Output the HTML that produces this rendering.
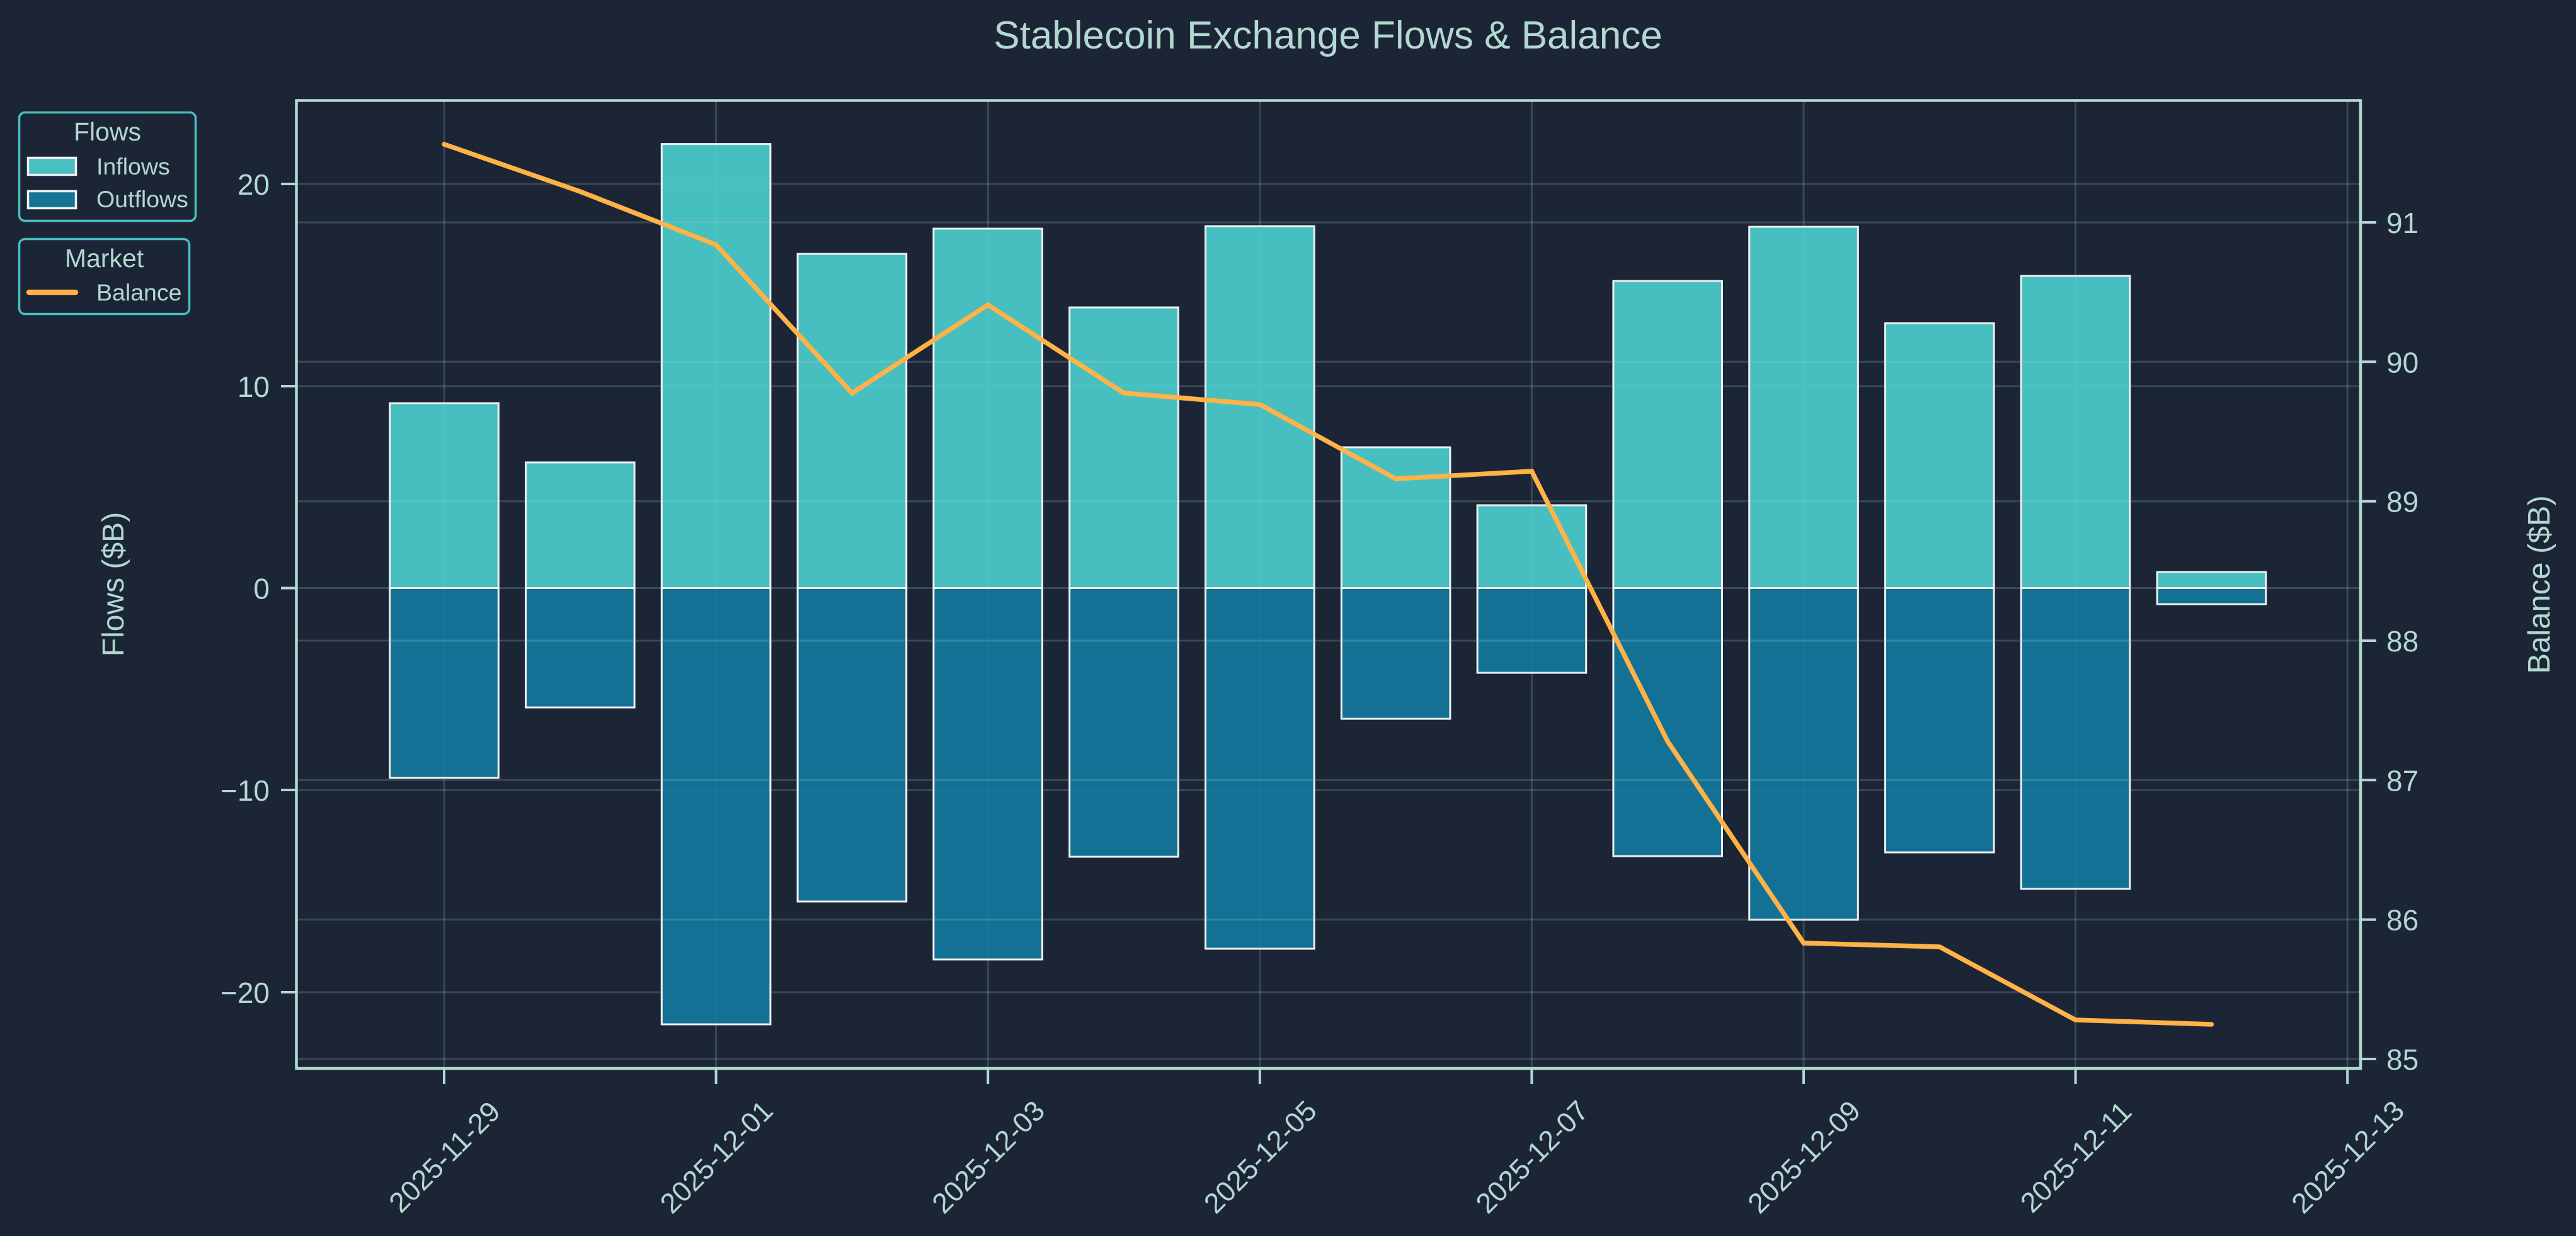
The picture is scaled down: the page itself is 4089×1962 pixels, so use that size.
<!DOCTYPE html>
<html>
<head>
<meta charset="utf-8">
<style>
html,body{margin:0;padding:0;background:#1c2535;}
svg{display:block;}
text{font-family:"Liberation Sans","DejaVu Sans",Arial,sans-serif;fill:#b2d8d0;}
</style>
</head>
<body>
<svg width="4089" height="1962" viewBox="0 0 4089 1962" xmlns="http://www.w3.org/2000/svg">
<rect x="0" y="0" width="4089" height="1962" fill="#1c2535"/>

<!-- Title -->
<text x="2108" y="77" font-size="62" text-anchor="middle">Stablecoin Exchange Flows &amp; Balance</text>

<!-- left-axis grid (under bars) -->
<g stroke="#b2d8d0" stroke-opacity="0.2" stroke-width="3">
<line x1="472" y1="292" x2="3745" y2="292"/>
<line x1="472" y1="613" x2="3745" y2="613"/>
<line x1="472" y1="933.5" x2="3745" y2="933.5"/>
<line x1="472" y1="1254" x2="3745" y2="1254"/>
<line x1="472" y1="1575" x2="3745" y2="1575"/>
<line x1="705" y1="161" x2="705" y2="1694"/>
<line x1="1136.6" y1="161" x2="1136.6" y2="1694"/>
<line x1="1568.2" y1="161" x2="1568.2" y2="1694"/>
<line x1="1999.8" y1="161" x2="1999.8" y2="1694"/>
<line x1="2431.4" y1="161" x2="2431.4" y2="1694"/>
<line x1="2863" y1="161" x2="2863" y2="1694"/>
<line x1="3294.6" y1="161" x2="3294.6" y2="1694"/>
<line x1="3726.2" y1="161" x2="3726.2" y2="1694"/>
</g>

<!-- Bars -->
<g stroke="#eef0f2" stroke-width="3" fill-opacity="0.9">
<g fill="#4dd0cf">
<rect x="618.7" y="640" width="172.6" height="293.5"/>
<rect x="834.5" y="734" width="172.6" height="199.5"/>
<rect x="1050.3" y="228.6" width="172.6" height="704.9"/>
<rect x="1266.1" y="403" width="172.6" height="530.5"/>
<rect x="1481.9" y="363" width="172.6" height="570.5"/>
<rect x="1697.7" y="488" width="172.6" height="445.5"/>
<rect x="1913.5" y="359" width="172.6" height="574.5"/>
<rect x="2129.3" y="710" width="172.6" height="223.5"/>
<rect x="2345.1" y="802" width="172.6" height="131.5"/>
<rect x="2560.9" y="446" width="172.6" height="487.5"/>
<rect x="2776.7" y="360" width="172.6" height="573.5"/>
<rect x="2992.5" y="513" width="172.6" height="420.5"/>
<rect x="3208.3" y="438" width="172.6" height="495.5"/>
<rect x="3424.1" y="908" width="172.6" height="25.5"/>
</g>
<g fill="#147aa1">
<rect x="618.7" y="933.5" width="172.6" height="301"/>
<rect x="834.5" y="933.5" width="172.6" height="189.5"/>
<rect x="1050.3" y="933.5" width="172.6" height="692.5"/>
<rect x="1266.1" y="933.5" width="172.6" height="497.5"/>
<rect x="1481.9" y="933.5" width="172.6" height="589.5"/>
<rect x="1697.7" y="933.5" width="172.6" height="426.5"/>
<rect x="1913.5" y="933.5" width="172.6" height="572.5"/>
<rect x="2129.3" y="933.5" width="172.6" height="207.5"/>
<rect x="2345.1" y="933.5" width="172.6" height="134.5"/>
<rect x="2560.9" y="933.5" width="172.6" height="425.5"/>
<rect x="2776.7" y="933.5" width="172.6" height="526.5"/>
<rect x="2992.5" y="933.5" width="172.6" height="419.5"/>
<rect x="3208.3" y="933.5" width="172.6" height="477.5"/>
<rect x="3424.1" y="933.5" width="172.6" height="25.5"/>
</g>
</g>

<!-- right-axis grid (over bars) -->
<g stroke="#b2d8d0" stroke-opacity="0.2" stroke-width="3">
<line x1="472" y1="353" x2="3745" y2="353"/>
<line x1="472" y1="574.3" x2="3745" y2="574.3"/>
<line x1="472" y1="795.7" x2="3745" y2="795.7"/>
<line x1="472" y1="1017" x2="3745" y2="1017"/>
<line x1="472" y1="1238.3" x2="3745" y2="1238.3"/>
<line x1="472" y1="1459.7" x2="3745" y2="1459.7"/>
<line x1="472" y1="1681" x2="3745" y2="1681"/>
</g>

<!-- Balance line -->
<polyline fill="none" stroke="#ffb347" stroke-width="7.5" stroke-linejoin="miter" stroke-linecap="round"
points="705,229 920.8,304 1136.6,388.5 1352.4,624 1568.2,484 1784,624 1999.8,642 2215.6,760 2431.4,748 2647.2,1177 2863,1497 3078.8,1503 3294.6,1619 3510.4,1626"/>

<!-- Spines -->
<rect x="470.5" y="159.5" width="3276.5" height="1536.5" fill="none" stroke="#b2d8d0" stroke-width="4.5"/>

<!-- Left ticks -->
<g stroke="#b2d8d0" stroke-width="4">
<line x1="446" y1="292" x2="470" y2="292"/>
<line x1="446" y1="613" x2="470" y2="613"/>
<line x1="446" y1="933.5" x2="470" y2="933.5"/>
<line x1="446" y1="1254" x2="470" y2="1254"/>
<line x1="446" y1="1575" x2="470" y2="1575"/>
</g>
<g font-size="46" text-anchor="end">
<text x="428" y="309">20</text>
<text x="428" y="630">10</text>
<text x="428" y="950.5">0</text>
<text x="428" y="1271">−10</text>
<text x="428" y="1592">−20</text>
</g>

<!-- Right ticks -->
<g stroke="#b2d8d0" stroke-width="4">
<line x1="3747" y1="353" x2="3772" y2="353"/>
<line x1="3747" y1="574.3" x2="3772" y2="574.3"/>
<line x1="3747" y1="795.7" x2="3772" y2="795.7"/>
<line x1="3747" y1="1017" x2="3772" y2="1017"/>
<line x1="3747" y1="1238.3" x2="3772" y2="1238.3"/>
<line x1="3747" y1="1459.7" x2="3772" y2="1459.7"/>
<line x1="3747" y1="1681" x2="3772" y2="1681"/>
</g>
<g font-size="46" text-anchor="start">
<text x="3788" y="370">91</text>
<text x="3788" y="591.3">90</text>
<text x="3788" y="812.7">89</text>
<text x="3788" y="1034">88</text>
<text x="3788" y="1255.3">87</text>
<text x="3788" y="1476.7">86</text>
<text x="3788" y="1698">85</text>
</g>

<!-- Bottom ticks -->
<g stroke="#b2d8d0" stroke-width="4">
<line x1="705" y1="1696" x2="705" y2="1721"/>
<line x1="1136.6" y1="1696" x2="1136.6" y2="1721"/>
<line x1="1568.2" y1="1696" x2="1568.2" y2="1721"/>
<line x1="1999.8" y1="1696" x2="1999.8" y2="1721"/>
<line x1="2431.4" y1="1696" x2="2431.4" y2="1721"/>
<line x1="2863" y1="1696" x2="2863" y2="1721"/>
<line x1="3294.6" y1="1696" x2="3294.6" y2="1721"/>
<line x1="3726.2" y1="1696" x2="3726.2" y2="1721"/>
</g>
<g font-size="45" text-anchor="middle">
<text transform="translate(705,1836) rotate(-45)" dy="0.36em">2025-11-29</text>
<text transform="translate(1136.6,1836) rotate(-45)" dy="0.36em">2025-12-01</text>
<text transform="translate(1568.2,1836) rotate(-45)" dy="0.36em">2025-12-03</text>
<text transform="translate(1999.8,1836) rotate(-45)" dy="0.36em">2025-12-05</text>
<text transform="translate(2431.4,1836) rotate(-45)" dy="0.36em">2025-12-07</text>
<text transform="translate(2863,1836) rotate(-45)" dy="0.36em">2025-12-09</text>
<text transform="translate(3294.6,1836) rotate(-45)" dy="0.36em">2025-12-11</text>
<text transform="translate(3726.2,1836) rotate(-45)" dy="0.36em">2025-12-13</text>
</g>

<!-- Axis labels -->
<text transform="translate(196,927.5) rotate(-90)" font-size="48" text-anchor="middle">Flows ($B)</text>
<text transform="translate(4047,928) rotate(-90)" font-size="49" text-anchor="middle">Balance ($B)</text>

<!-- Legend: Flows -->
<rect x="30.5" y="178.5" width="280" height="172" rx="9" ry="9" fill="#1c2535" stroke="#48c0c0" stroke-width="3.5"/>
<text x="170.5" y="223" font-size="41" text-anchor="middle">Flows</text>
<rect x="44.5" y="250.5" width="76" height="27" fill="#48bfc0" stroke="#eef0f2" stroke-width="3.5"/>
<text x="153" y="277" font-size="37.5">Inflows</text>
<rect x="44.5" y="303.5" width="76" height="27" fill="#157396" stroke="#eef0f2" stroke-width="3.5"/>
<text x="153" y="329" font-size="37.5">Outflows</text>

<!-- Legend: Market -->
<rect x="30.5" y="379.5" width="270" height="119" rx="9" ry="9" fill="#1c2535" stroke="#48c0c0" stroke-width="3.5"/>
<text x="165.5" y="424" font-size="41" text-anchor="middle">Market</text>
<line x1="46" y1="464" x2="120" y2="464" stroke="#ffb347" stroke-width="8.5" stroke-linecap="round"/>
<text x="153" y="477" font-size="37.5">Balance</text>
</svg>
</body>
</html>
